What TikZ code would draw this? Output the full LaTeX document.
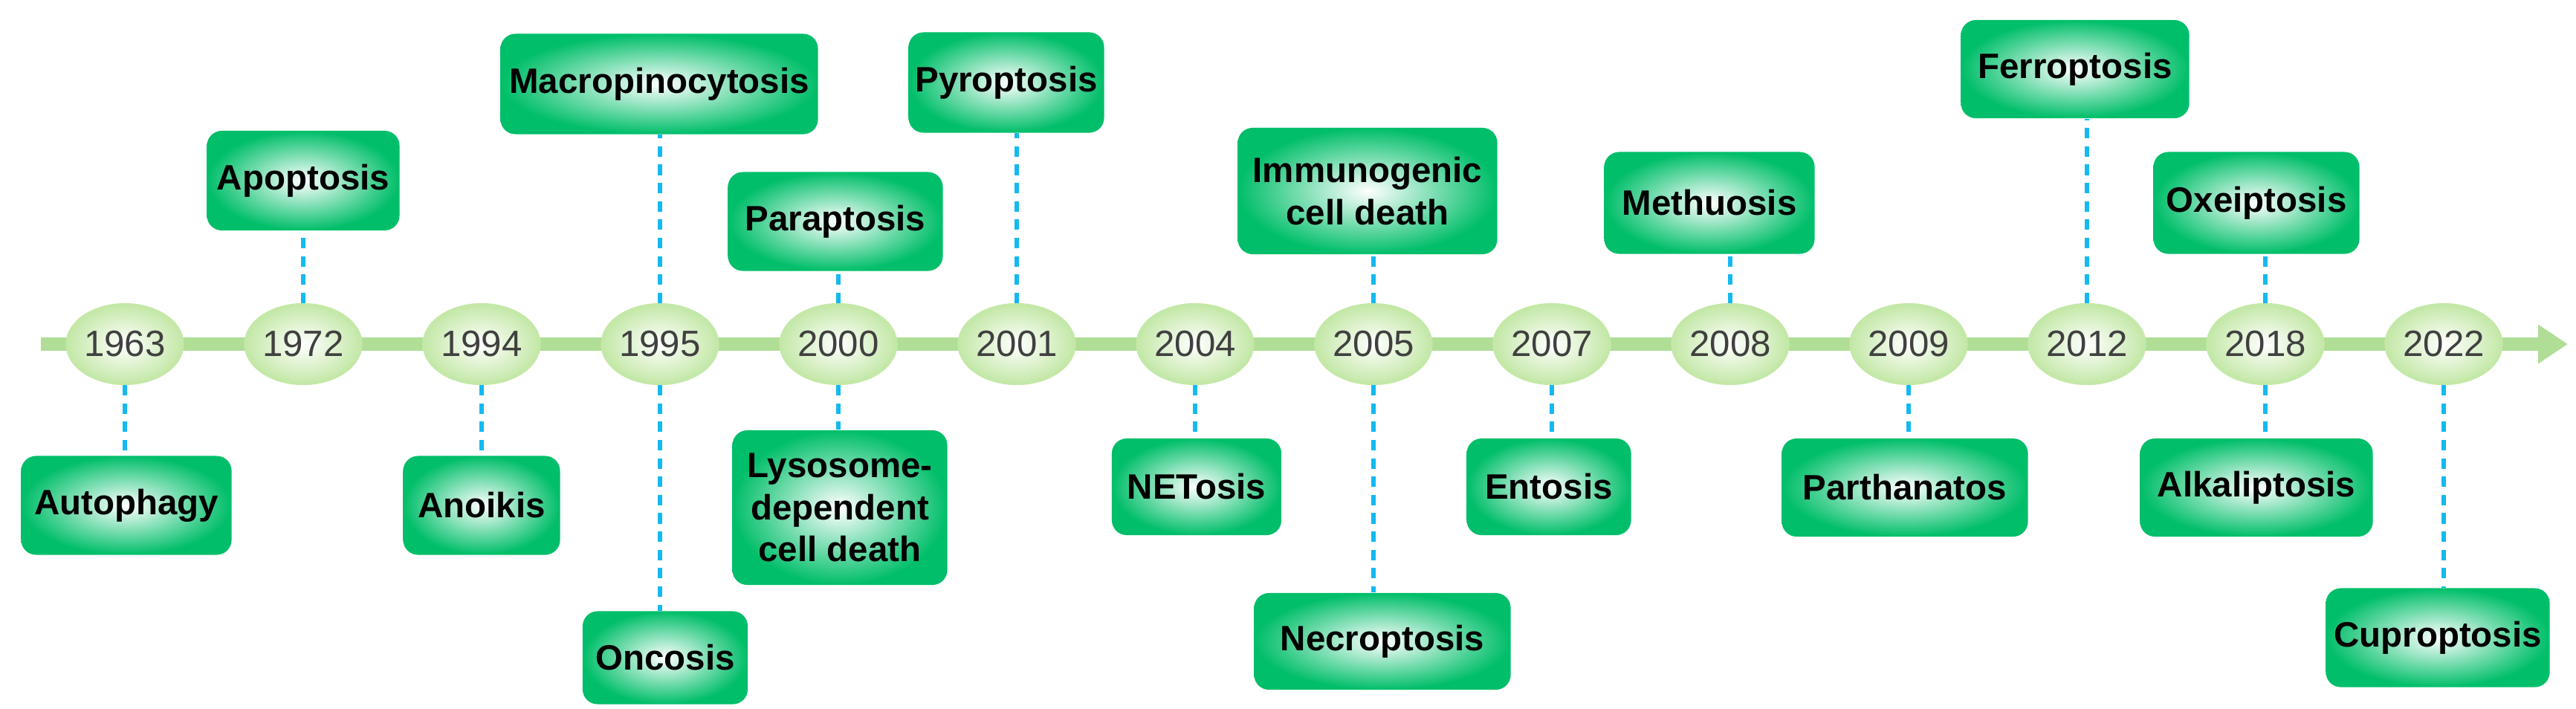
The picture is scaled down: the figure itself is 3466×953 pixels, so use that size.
\documentclass[tikz,border=0pt]{standalone}
\usepackage{fontspec}
\setmainfont{Liberation Sans}
\usetikzlibrary{shapes.geometric,arrows.meta}
\definecolor{boxgreen}{RGB}{0,190,105}
\definecolor{linegreen}{RGB}{176,222,150}
\definecolor{yeargreen}{RGB}{196,232,168}
\definecolor{dashblue}{RGB}{20,185,240}

\tikzset{
  year/.style={ellipse, minimum width=1.55cm, minimum height=1.06cm, inner sep=0pt,
    draw=yeargreen, line width=1.2pt, inner color=white, outer color=yeargreen,
    font=\fontsize{14}{16}\selectfont, text=black!75},
  event/.style={rounded corners=0.2cm, inner sep=0pt, inner color=white, outer color=boxgreen,
    font=\bfseries\fontsize{13.5}{16}\selectfont, align=center},
  link/.style={dashblue, line width=1.6pt, dash pattern=on 4pt off 3pt}
}

\begin{document}
\begin{tikzpicture}[x=0.01cm, y=-0.01cm]
    \useasboundingbox (0,0) rectangle (3466,953);
    % timeline
    \draw [linegreen, line width=0.18cm, -{Triangle[length=0.4cm,width=0.5cm]}] (55,463) -- (3455,463);

    \node [year] (y1963) at (168,463) {1963};
    \node [year] (y1972) at (408,463) {1972};
    \node [year] (y1994) at (648,463) {1994};
    \node [year] (y1995) at (888,463) {1995};
    \node [year] (y2000) at (1128,463) {2000};
    \node [year] (y2001) at (1368,463) {2001};
    \node [year] (y2004) at (1608,463) {2004};
    \node [year] (y2005) at (1848,463) {2005};
    \node [year] (y2007) at (2088,463) {2007};
    \node [year] (y2008) at (2328,463) {2008};
    \node [year] (y2009) at (2568,463) {2009};
    \node [year] (y2012) at (2808,463) {2012};
    \node [year] (y2018) at (3048,463) {2018};
    \node [year] (y2022) at (3288,463) {2022};

    % above the line
    \node [event, minimum width=2.59cm, minimum height=1.34cm] (apoptosis) at (408,243) {Apoptosis};
    \node [event, minimum width=4.27cm, minimum height=1.35cm] (macro) at (887,113) {Macropinocytosis};
    \node [event, minimum width=2.89cm, minimum height=1.33cm] (paraptosis) at (1124,298) {Paraptosis};
    \node [event, minimum width=2.63cm, minimum height=1.35cm] (pyroptosis) at (1354,111) {Pyroptosis};
    \node [event, minimum width=3.49cm, minimum height=1.70cm] (immuno) at (1840,257) {Immunogenic\\cell death};
    \node [event, minimum width=2.83cm, minimum height=1.37cm] (methuosis) at (2300,273) {Methuosis};
    \node [event, minimum width=3.07cm, minimum height=1.32cm] (ferroptosis) at (2792,93) {Ferroptosis};
    \node [event, minimum width=2.77cm, minimum height=1.37cm] (oxeiptosis) at (3036,273) {Oxeiptosis};

    % below the line
    \node [event, minimum width=2.83cm, minimum height=1.33cm] (autophagy) at (170,680) {Autophagy};
    \node [event, minimum width=2.11cm, minimum height=1.33cm] (anoikis) at (648,680) {Anoikis};
    \node [event, minimum width=2.22cm, minimum height=1.25cm] (oncosis) at (895,885) {Oncosis};
    \node [event, minimum width=2.89cm, minimum height=2.08cm] (lysosome) at (1130,683) {Lysosome-\\dependent\\cell death};
    \node [event, minimum width=2.28cm, minimum height=1.30cm] (netosis) at (1610,655) {NETosis};
    \node [event, minimum width=3.45cm, minimum height=1.30cm] (necroptosis) at (1860,863) {Necroptosis};
    \node [event, minimum width=2.21cm, minimum height=1.30cm] (entosis) at (2084,655) {Entosis};
    \node [event, minimum width=3.31cm, minimum height=1.32cm] (parthanatos) at (2563,656) {Parthanatos};
    \node [event, minimum width=3.13cm, minimum height=1.32cm] (alkaliptosis) at (3036,656) {Alkaliptosis};
    \node [event, minimum width=3.01cm, minimum height=1.33cm] (cuproptosis) at (3280,858) {Cuproptosis};

    % dashed links
    \draw [link] (y1972) -- (y1972 |- apoptosis.south);
    \draw [link] (y1995) -- (y1995 |- macro.south);
    \draw [link] (y2000) -- (y2000 |- paraptosis.south);
    \draw [link] (y2001) -- (y2001 |- pyroptosis.south);
    \draw [link] (y2005) -- (y2005 |- immuno.south);
    \draw [link] (y2008) -- (y2008 |- methuosis.south);
    \draw [link] (y2012) -- (y2012 |- ferroptosis.south);
    \draw [link] (y2018) -- (y2018 |- oxeiptosis.south);
    \draw [link] (y1963) -- (y1963 |- autophagy.north);
    \draw [link] (y1994) -- (y1994 |- anoikis.north);
    \draw [link] (y1995) -- (y1995 |- oncosis.north);
    \draw [link] (y2000) -- (y2000 |- lysosome.north);
    \draw [link] (y2004) -- (y2004 |- netosis.north);
    \draw [link] (y2005) -- (y2005 |- necroptosis.north);
    \draw [link] (y2007) -- (y2007 |- entosis.north);
    \draw [link] (y2009) -- (y2009 |- parthanatos.north);
    \draw [link] (y2018) -- (y2018 |- alkaliptosis.north);
    \draw [link] (y2022) -- (y2022 |- cuproptosis.north);
\end{tikzpicture}
\end{document}
